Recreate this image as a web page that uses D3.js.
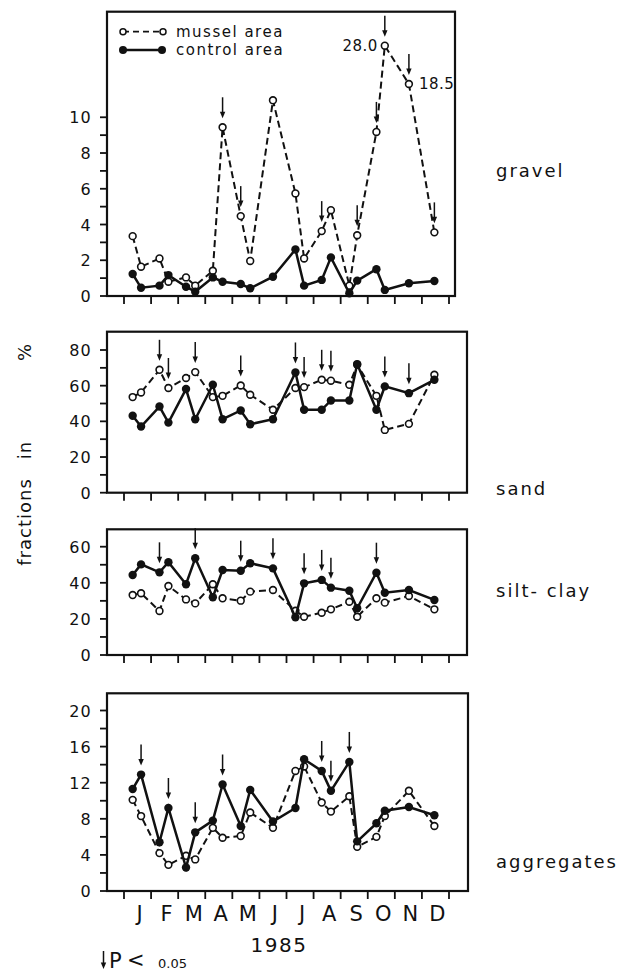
<!DOCTYPE html>
<html>
<head>
<meta charset="utf-8">
<script src="https://cdn.jsdelivr.net/npm/d3@7"></script>
<style>
  body { margin: 0; background: #fff; }
  text { font-family: "DejaVu Sans", sans-serif; fill: #111; }
</style>
</head>
<body>
<div id="chart"></div>
<script>
// Sediment fractions, mussel area vs control area, 1985

const monthLabels = ["J", "F", "M", "A", "M", "J", "J", "A", "S", "O", "N", "D"];

// sampling dates, in months from 1 Jan
const sampleMonths = [0.32, 0.63, 1.31, 1.64, 2.29, 2.63, 3.28, 3.64, 4.31, 4.66, 5.5,
                      6.33, 6.65, 7.3, 7.64, 8.32, 8.61, 9.32, 9.63, 10.52, 11.46];

const gravelMussel  = [3.35, 1.64, 2.1, 0.8, 1.04, 0.58, 1.41, 9.44, 4.47, 1.96, 10.95,
                       5.74, 2.1, 3.63, 4.8, 0.58, 3.4, 9.18, 28.0, 18.5, 3.56];
const gravelControl = [1.23, 0.46, 0.58, 1.17, 0.52, 0.24, 1.04, 0.8, 0.67, 0.43, 1.08,
                       2.6, 0.58, 0.9, 2.16, 0.15, 0.86, 1.5, 0.34, 0.71, 0.84];
const gravelArrows  = [7, 8, 13, 16, 17, 18, 19, 20];

const sandMussel  = [53.6, 56.2, 68.9, 58.7, 64.3, 67.6, 53.6, 54.3, 60.1, 54.9, 46.5,
                     58.7, 59.2, 63.3, 62.8, 60.5, 71.7, 54.3, 35.2, 38.6, 66.1];
const sandControl = [43.1, 37.1, 48.3, 39.3, 58.1, 41.2, 60.5, 41.2, 46.1, 38.4, 41.2,
                     67.4, 46.5, 46.5, 51.7, 51.7, 72.1, 46.5, 59.6, 55.8, 63.3];
const sandArrows  = [2, 3, 5, 8, 11, 12, 13, 14, 18, 19];

const siltMussel  = [33.2, 34.2, 24.4, 38.2, 30.8, 28.6, 39.2, 31.4, 30.1, 35.1, 36.0,
                     24.5, 21.2, 23.4, 25.3, 29.5, 21.2, 31.4, 29.0, 32.7, 25.3];
const siltControl = [44.3, 50.2, 45.8, 51.4, 39.2, 53.6, 32.0, 47.1, 46.7, 50.8, 48.0,
                     20.9, 39.7, 41.6, 37.3, 35.6, 25.9, 45.6, 34.5, 36.0, 30.5];
const siltArrows  = [2, 5, 8, 10, 12, 13, 14, 17];

const aggMussel  = [10.1, 8.3, 4.2, 2.9, 3.9, 3.5, 7.0, 5.9, 6.1, 8.7, 7.0,
                    13.3, 13.8, 9.8, 8.8, 10.5, 4.9, 6.0, 8.3, 11.1, 7.2];
const aggControl = [11.3, 12.9, 5.4, 9.2, 2.6, 6.5, 7.8, 11.8, 7.2, 11.2, 7.7,
                    9.2, 14.6, 13.3, 11.1, 14.3, 5.5, 7.5, 8.9, 9.3, 8.4];
const aggArrows  = [1, 3, 5, 7, 13, 14, 15];

const width = 639, height = 974;

const svg = d3.select("#chart").append("svg")
    .attr("width", width)
    .attr("height", height);

svg.append("rect").attr("width", width).attr("height", height).attr("fill", "#fff");

const x = d3.scaleLinear().domain([0, 12]).range([124, 449]);

// gravel axis is broken above ~11 so the two big values fit
const panels = [
    { name: "gravel", mussel: gravelMussel, control: gravelControl, arrows: gravelArrows,
      y: d3.scaleLinear().domain([0, 11, 18.5, 28]).range([296, 99.4, 84, 45.7]),
      top: 11.7, bottom: 296, right: 455, tickStep: 1, labelStep: 2, tickMax: 10, labelY: 177 },
    { name: "sand", mussel: sandMussel, control: sandControl, arrows: sandArrows,
      y: d3.scaleLinear().domain([0, 80]).range([492.7, 350]),
      top: 331.7, bottom: 492.7, right: 467, tickStep: 10, labelStep: 20, tickMax: 80, labelY: 495 },
    { name: "silt- clay", mussel: siltMussel, control: siltControl, arrows: siltArrows,
      y: d3.scaleLinear().domain([0, 60]).range([655, 546.7]),
      top: 529.3, bottom: 655, right: 467, tickStep: 10, labelStep: 20, tickMax: 60, labelY: 597 },
    { name: "aggregates", mussel: aggMussel, control: aggControl, arrows: aggArrows,
      y: d3.scaleLinear().domain([0, 20]).range([891, 710.5]),
      top: 693.3, bottom: 891, right: 468, tickStep: 2, labelStep: 4, tickMax: 20, labelY: 868 }
];

const boxLeft = 107;

function drawArrow(g, ax, tipY, len) {
    g.append("line")
        .attr("x1", ax).attr("x2", ax)
        .attr("y1", tipY - len).attr("y2", tipY - 4)
        .attr("stroke", "#111").attr("stroke-width", 1.5);
    g.append("path")
        .attr("d", `M${ax - 2.7},${tipY - 6.5} L${ax + 2.7},${tipY - 6.5} L${ax},${tipY} Z`)
        .attr("fill", "#111");
}

panels.forEach(p => {
    const g = svg.append("g");
    const y = p.y;

    // frame
    g.append("rect")
        .attr("x", boxLeft).attr("y", p.top)
        .attr("width", p.right - boxLeft).attr("height", p.bottom - p.top)
        .attr("fill", "none").attr("stroke", "#111").attr("stroke-width", 2.2);

    // y axis ticks and labels
    const yTicks = d3.range(0, p.tickMax + p.tickStep / 2, p.tickStep);
    g.selectAll(".ytick").data(yTicks).join("line")
        .attr("x1", boxLeft - 7).attr("x2", boxLeft)
        .attr("y1", d => y(d)).attr("y2", d => y(d))
        .attr("stroke", "#111").attr("stroke-width", 1.8);
    g.selectAll(".ylab").data(yTicks.filter(d => d % p.labelStep === 0)).join("text")
        .attr("x", 92).attr("y", d => y(d) + 6)
        .attr("text-anchor", "end")
        .attr("font-size", 16)
        .attr("letter-spacing", 1.2)
        .text(d => d);

    // x axis ticks
    g.selectAll(".xtick").data(d3.range(0, 13)).join("line")
        .attr("x1", d => x(d)).attr("x2", d => x(d))
        .attr("y1", p.bottom).attr("y2", p.bottom + 8)
        .attr("stroke", "#111").attr("stroke-width", 1.8);

    const pts = (vals) => vals.map((v, i) => [x(sampleMonths[i]), y(v)]);
    const line = d3.line();

    // mussel area: dashed with open circles
    g.append("path")
        .attr("d", line(pts(p.mussel)))
        .attr("fill", "none").attr("stroke", "#111")
        .attr("stroke-width", 2).attr("stroke-dasharray", "7,4");
    g.selectAll(".mc").data(pts(p.mussel)).join("circle")
        .attr("cx", d => d[0]).attr("cy", d => d[1]).attr("r", 3.4)
        .attr("fill", "#fff").attr("stroke", "#111").attr("stroke-width", 1.6);

    // control area: solid with filled circles
    g.append("path")
        .attr("d", line(pts(p.control)))
        .attr("fill", "none").attr("stroke", "#111").attr("stroke-width", 2.5);
    g.selectAll(".cc").data(pts(p.control)).join("circle")
        .attr("cx", d => d[0]).attr("cy", d => d[1]).attr("r", 4.2)
        .attr("fill", "#111");

    // significance arrows
    p.arrows.forEach(i => {
        const top = Math.min(y(p.mussel[i]), y(p.control[i]));
        drawArrow(g, x(sampleMonths[i]), top - 9, 21);
    });

    // panel name
    g.append("text")
        .attr("x", 496).attr("y", p.labelY)
        .attr("font-size", 18).attr("letter-spacing", 2)
        .text(p.name);
});

// off-scale values in gravel panel
const yg = panels[0].y;
svg.append("text")
    .attr("x", x(sampleMonths[18]) - 7).attr("y", yg(28.0) + 5)
    .attr("text-anchor", "end").attr("font-size", 15).attr("letter-spacing", 0.5)
    .text("28.0");
svg.append("text")
    .attr("x", x(sampleMonths[19]) + 10).attr("y", yg(18.5) + 5)
    .attr("font-size", 15).attr("letter-spacing", 0.5)
    .text("18.5");

// legend
const leg = svg.append("g");
leg.append("line").attr("x1", 123).attr("x2", 163).attr("y1", 31.7).attr("y2", 31.7)
    .attr("stroke", "#111").attr("stroke-width", 1.8).attr("stroke-dasharray", "6,4");
[123, 163].forEach(cx => leg.append("circle").attr("cx", cx).attr("cy", 31.7).attr("r", 3)
    .attr("fill", "#fff").attr("stroke", "#111").attr("stroke-width", 1.5));
leg.append("line").attr("x1", 123).attr("x2", 162).attr("y1", 50).attr("y2", 50)
    .attr("stroke", "#111").attr("stroke-width", 2.5);
[123, 162].forEach(cx => leg.append("circle").attr("cx", cx).attr("cy", 50).attr("r", 4)
    .attr("fill", "#111"));
leg.append("text").attr("x", 176).attr("y", 36.5).attr("font-size", 15)
    .attr("letter-spacing", 1.5).text("mussel area");
leg.append("text").attr("x", 176).attr("y", 55).attr("font-size", 15)
    .attr("letter-spacing", 1.5).text("control area");

// month labels
svg.selectAll(".month").data(monthLabels).join("text")
    .attr("x", (d, i) => x(i + 0.5) + 2)
    .attr("y", 921)
    .attr("text-anchor", "middle")
    .attr("font-size", 21)
    .text(d => d);

svg.append("text")
    .attr("x", 279).attr("y", 952)
    .attr("text-anchor", "middle").attr("font-size", 20).attr("letter-spacing", 1.5)
    .text("1985");

// y title
[["fractions", 522], ["in", 450], ["%", 352]].forEach(([t, cy]) => {
    svg.append("text")
        .attr("transform", `translate(31,${cy}) rotate(-90)`)
        .attr("text-anchor", "middle")
        .attr("font-size", 18).attr("letter-spacing", 1)
        .text(t);
});

// significance key
drawArrow(svg, 103.5, 969, 18);
svg.append("text").attr("x", 109).attr("y", 968).attr("font-size", 21).text("P");
svg.append("text").attr("x", 127).attr("y", 967).attr("font-size", 21).text("<");
svg.append("text").attr("x", 158).attr("y", 968).attr("font-size", 13).text("0.05");
</script>
</body>
</html>
